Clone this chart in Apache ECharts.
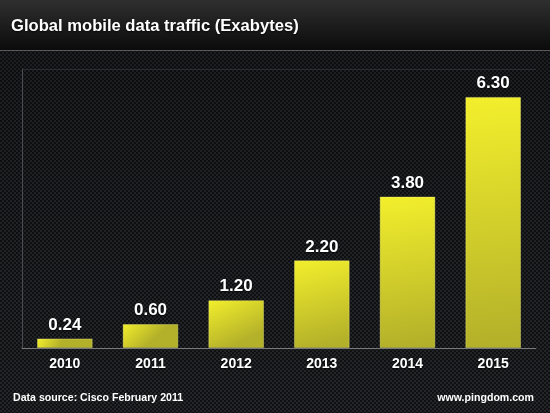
<!DOCTYPE html>
<html><head><meta charset="utf-8">
<script src="https://cdn.jsdelivr.net/npm/echarts@6/dist/echarts.min.js"></script>
<style>html,body{margin:0;padding:0;background:#111;}#c{width:550px;height:413px;}</style>
</head><body><div id="c"></div>
<script>
const categories = ['2010','2011','2012','2013','2014','2015'];
const traffic = [0.24, 0.60, 1.20, 2.20, 3.80, 6.30];
const titleText = 'Global mobile data traffic (Exabytes)';
const sourceText = 'Data source: Cisco February 2011';
const siteText = 'www.pingdom.com';

// dotted texture
const pc = document.createElement('canvas');
pc.width = 4; pc.height = 4;
const px = pc.getContext('2d');
px.fillStyle = '#26282c'; px.fillRect(0,0,4,4);
px.fillStyle = '#0e0f11';
px.beginPath(); px.arc(1,1,1.1,0,Math.PI*2); px.fill();
px.beginPath(); px.arc(3,3,1.1,0,Math.PI*2); px.fill();

const chart = echarts.init(document.getElementById('c'));
chart.setOption({
  backgroundColor: '#1b1c1f',
  animation: false,
  graphic: [
    {type:'rect', z:-10, shape:{x:0,y:50,width:550,height:363}, style:{fill:{image:pc, repeat:'repeat'}}},
    {type:'rect', z:-9, shape:{x:0,y:50,width:550,height:363}, style:{fill:{type:'linear',x:0,y:0,x2:0,y2:1,colorStops:[{offset:0,color:'rgba(0,0,0,0.25)'},{offset:1,color:'rgba(0,0,0,0.05)'}]}}},
    {type:'rect', z:-9, shape:{x:0,y:0,width:550,height:50}, style:{fill:{type:'linear',x:0,y:0,x2:0,y2:1,colorStops:[{offset:0,color:'#2f2f2f'},{offset:1,color:'#0b0b0b'}]}}},
    {type:'line', z:-8, shape:{x1:0,y1:50.5,x2:550,y2:50.5}, style:{stroke:'#5a5a5a', lineWidth:1}},
    {type:'line', z:-8, shape:{x1:22,y1:69.5,x2:536,y2:69.5}, style:{stroke:'#2a2c30', lineWidth:1}},
    {type:'text', left:11, top:18, style:{text:titleText, fill:'#ffffff', font:'bold 16.6px "Liberation Sans", Arial, sans-serif', textShadowColor:'rgba(0,0,0,0.8)', textShadowBlur:2, textShadowOffsetY:1}},
    {type:'text', left:13, top:393, style:{text:sourceText, fill:'#ffffff', font:'bold 10.6px "Liberation Sans", Arial, sans-serif'}},
    {type:'text', right:16, top:393, style:{text:siteText, fill:'#ffffff', font:'bold 10.6px "Liberation Sans", Arial, sans-serif'}}
  ],
  grid: {left:22, right:14, top:69, bottom:65, containLabel:false},
  xAxis: {
    type:'category', data: categories,
    axisLine:{show:true, lineStyle:{color:'#7a7a7a', width:1}},
    axisTick:{show:false},
    axisLabel:{color:'#ffffff', fontSize:14, fontWeight:'bold', fontFamily:'"Liberation Sans", Arial, sans-serif', margin:9, textShadowColor:'rgba(0,0,0,0.9)', textShadowBlur:2, textShadowOffsetY:1}
  },
  yAxis: {
    type:'value', min:0, max:7,
    axisLine:{show:true, lineStyle:{color:'#4a4c50', width:1}},
    axisTick:{show:false}, axisLabel:{show:false}, splitLine:{show:false}
  },
  series: [{
    type:'bar', data: traffic, barWidth:'65%',
    itemStyle:{
      color:{type:'linear', x:0, y:0, x2:0.4, y2:1, colorStops:[{offset:0,color:'#f3ef2c'},{offset:1,color:'#b3b02a'}]},
      borderColor:'rgba(255,255,140,0.35)', borderWidth:1
    },
    label:{show:true, position:'top', distance:5, color:'#ffffff', fontSize:17, fontWeight:'bold', fontFamily:'"Liberation Sans", Arial, sans-serif',
      formatter: p => p.value.toFixed(2), textShadowColor:'rgba(0,0,0,0.8)', textShadowBlur:2, textShadowOffsetY:1}
  }]
});
</script></body></html>
